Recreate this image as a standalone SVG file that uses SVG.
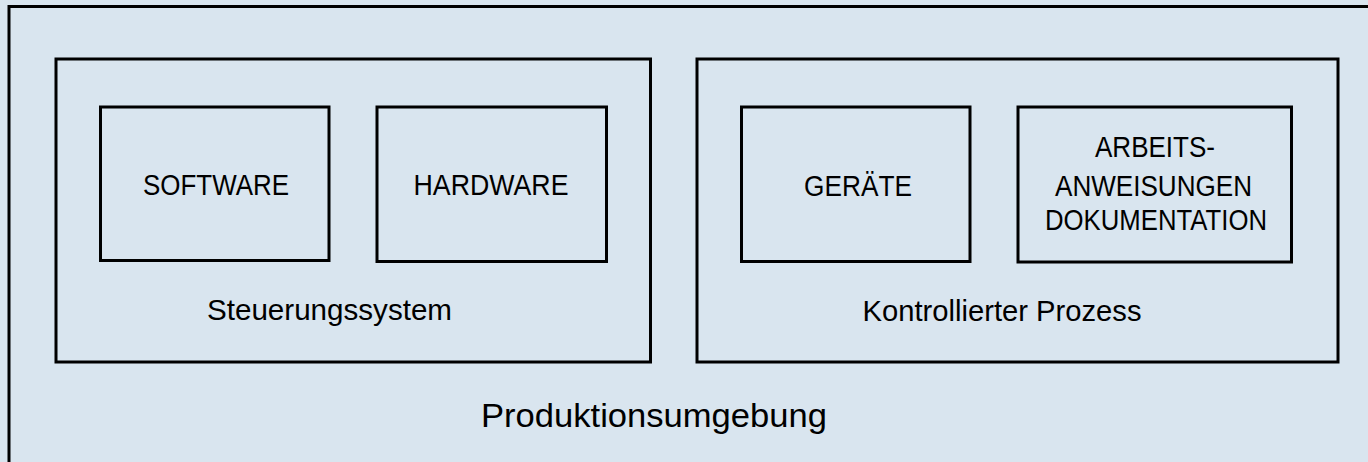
<svg xmlns="http://www.w3.org/2000/svg" width="1368" height="462" viewBox="0 0 1368 462">
<style>
.box{fill:none;stroke:#000;stroke-width:3}
.t{font-family:"Liberation Sans",Arial,sans-serif;fill:#000;text-anchor:middle}
.c{font-size:29px}
.l{font-size:30px}
</style>
<rect x="0" y="0" width="1368" height="462" fill="#D9E5EF"/>
<g id="produktionsumgebung">
<path class="box" d="M1368 6.5 H9 V462"/>
<text class="t" x="654" y="426.5" style="font-size:33px" textLength="346" lengthAdjust="spacingAndGlyphs">Produktionsumgebung</text>
</g>
<g id="steuerungssystem">
<rect class="box" x="56" y="59" width="594.5" height="303"/>
<text class="t l" x="329.5" y="320" textLength="245" lengthAdjust="spacingAndGlyphs">Steuerungssystem</text>
</g>
<g id="kontrollierter-prozess">
<rect class="box" x="697" y="59" width="641" height="303"/>
<text class="t l" x="1002" y="321" textLength="279" lengthAdjust="spacingAndGlyphs">Kontrollierter Prozess</text>
</g>
<g id="software">
<rect class="box" x="100.5" y="107" width="228.5" height="153.5"/>
<text class="t c" x="216" y="194.5" textLength="146" lengthAdjust="spacingAndGlyphs">SOFTWARE</text>
</g>
<g id="hardware">
<rect class="box" x="377" y="107" width="229.5" height="154.5"/>
<text class="t c" x="491" y="195" textLength="155" lengthAdjust="spacingAndGlyphs">HARDWARE</text>
</g>
<g id="geraete">
<rect class="box" x="741.5" y="107" width="228.5" height="154.5"/>
<text class="t c" x="858" y="195.5" textLength="108" lengthAdjust="spacingAndGlyphs">GERÄTE</text>
</g>
<g id="arbeitsanweisungen">
<rect class="box" x="1018" y="107" width="273.5" height="155"/>
<text class="t c" x="1155" y="156.5" textLength="120" lengthAdjust="spacingAndGlyphs">ARBEITS-</text>
<text class="t c" x="1153.5" y="195.5" textLength="197" lengthAdjust="spacingAndGlyphs">ANWEISUNGEN</text>
<text class="t c" x="1156" y="229.5" textLength="222" lengthAdjust="spacingAndGlyphs">DOKUMENTATION</text>
</g>
<g id="connectors"/>
</svg>
